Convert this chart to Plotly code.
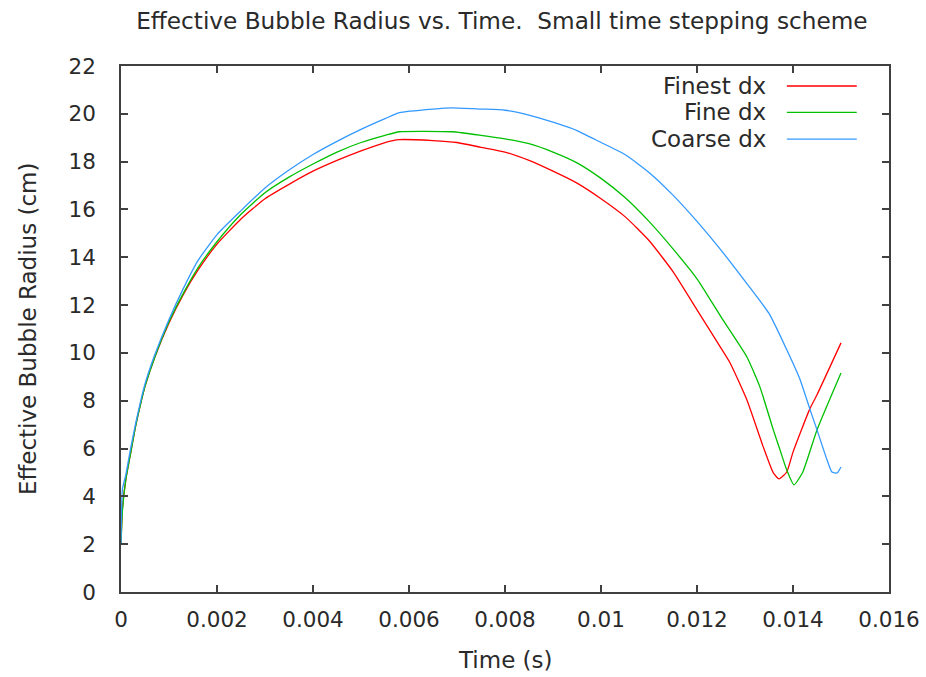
import plotly.graph_objects as go

# ---- data ----
t_finest = [0, 0.00003, 0.0001, 0.0002, 0.0003, 0.0004, 0.0005, 0.0007, 0.001, 0.0013, 0.0016,
            0.002, 0.0025, 0.003, 0.0035, 0.004, 0.0045, 0.005, 0.0055, 0.0058, 0.0065, 0.007,
            0.0075, 0.008, 0.0085, 0.009, 0.0095, 0.01, 0.0105, 0.011, 0.0115, 0.012, 0.0125,
            0.01269, 0.01304, 0.01338, 0.01359, 0.01371, 0.01387, 0.014, 0.01435, 0.0145, 0.015]
r_finest = [2.0, 3.5, 4.7, 5.8, 6.9, 7.8, 8.6, 9.8, 11.25, 12.45, 13.45,
            14.55, 15.6, 16.45, 17.05, 17.6, 18.05, 18.45, 18.8, 18.92, 18.88, 18.8,
            18.6, 18.4, 18.05, 17.6, 17.1, 16.45, 15.7, 14.7, 13.4, 11.8, 10.2,
            9.58, 8.03, 6.07, 4.98, 4.73, 5.02, 5.85, 7.66, 8.25, 10.42]

t_fine = [0, 0.00003, 0.0001, 0.0002, 0.0003, 0.0004, 0.0005, 0.0007, 0.001, 0.0013, 0.0016,
          0.002, 0.0025, 0.003, 0.0035, 0.004, 0.0045, 0.005, 0.0055, 0.0058, 0.0069, 0.0075,
          0.008, 0.0085, 0.009, 0.0095, 0.01, 0.0105, 0.011, 0.0115, 0.012, 0.01254, 0.01304,
          0.01331, 0.01359, 0.01373, 0.01387, 0.01402, 0.0142, 0.0145, 0.015]
r_fine = [2.0, 3.4, 4.7, 5.8, 6.9, 7.8, 8.6, 9.8, 11.3, 12.5, 13.55,
          14.65, 15.8, 16.7, 17.35, 17.9, 18.4, 18.8, 19.1, 19.25, 19.25, 19.1,
          18.95, 18.75, 18.4, 17.95, 17.3, 16.5, 15.5, 14.35, 13.1, 11.38, 9.83,
          8.58, 6.78, 5.94, 5.1, 4.48, 5.0, 6.78, 9.16]

t_coarse = [0, 0.00003, 0.0001, 0.0002, 0.0003, 0.0004, 0.0005, 0.0007, 0.001, 0.0013, 0.0016,
            0.002, 0.0025, 0.003, 0.0035, 0.004, 0.0045, 0.005, 0.0055, 0.0058, 0.0065, 0.0069,
            0.0075, 0.008, 0.0085, 0.009, 0.0095, 0.01, 0.0105, 0.011, 0.0115, 0.012, 0.0125,
            0.013, 0.0135, 0.01387, 0.01415, 0.01435, 0.0145, 0.01471, 0.01481, 0.01492, 0.015]
r_coarse = [2.0, 4.3, 4.9, 6.0, 7.0, 7.9, 8.7, 9.9, 11.4, 12.7, 13.85,
            14.95, 15.95, 16.9, 17.65, 18.3, 18.85, 19.35, 19.8, 20.05, 20.2, 20.25,
            20.2, 20.15, 19.95, 19.65, 19.3, 18.8, 18.3, 17.55, 16.6, 15.5, 14.3,
            13.0, 11.65, 10.13, 8.87, 7.66, 6.78, 5.52, 5.02, 4.98, 5.23]

series_names = ["Finest dx", "Fine dx", "Coarse dx"]
series_colors = ["#ff0000", "#00c000", "#3399ff"]

x_ticks = [0, 0.002, 0.004, 0.006, 0.008, 0.01, 0.012, 0.014, 0.016]
x_tick_text = ["0", "0.002", "0.004", "0.006", "0.008", "0.01", "0.012", "0.014", "0.016"]
y_ticks = list(range(0, 23, 2))

FONT = "DejaVu Sans"
TXT = "#2a2a2a"

fig = go.Figure()
for t, r, name, col in zip([t_finest, t_fine, t_coarse], [r_finest, r_fine, r_coarse],
                           series_names, series_colors):
    fig.add_trace(go.Scatter(x=t, y=r, mode="lines", name=name,
                             line=dict(color=col, width=1.3, shape="spline", smoothing=0.5),
                             showlegend=False))

# custom gnuplot-style legend (text on left, sample on right)
leg_y = [0.962, 0.912, 0.861]
for name, col, yy in zip(series_names, series_colors, leg_y):
    fig.add_annotation(x=0.843, y=yy, xref="paper", yref="paper", text=name,
                       showarrow=False, xanchor="right", yanchor="middle",
                       font=dict(family=FONT, size=23, color=TXT))
    fig.add_shape(type="line", xref="paper", yref="paper", x0=0.867, x1=0.958, y0=yy, y1=yy,
                  line=dict(color=col, width=1.3))

# axis titles placed like gnuplot
fig.add_annotation(x=0.5, y=-0.129, xref="paper", yref="paper", text="Time (s)",
                   showarrow=False, xanchor="center", yanchor="middle",
                   font=dict(family=FONT, size=23, color=TXT))
fig.add_annotation(x=-0.121, y=0.5, xref="paper", yref="paper", text="Effective Bubble Radius (cm)",
                   showarrow=False, xanchor="center", yanchor="middle", textangle=-90,
                   font=dict(family=FONT, size=23, color=TXT))

axis_common = dict(showline=True, mirror="allticks", linecolor="#404040", linewidth=1.5,
                   ticks="inside", ticklen=7, tickwidth=1.5, tickcolor="#404040",
                   showgrid=False, zeroline=False, automargin=False,
                   tickfont=dict(family=FONT, size=21.5, color=TXT))

fig.update_layout(
    width=926, height=677,
    margin=dict(l=121, r=37, t=66, b=85),
    paper_bgcolor="white", plot_bgcolor="white",
    title=dict(text="Effective Bubble Radius vs. Time.  Small time stepping scheme",
               x=0.542, xanchor="center", y=1 - 21 / 677, yanchor="middle",
               font=dict(family=FONT, size=23.2, color=TXT)),
    xaxis=dict(range=[0, 0.016], tickvals=x_ticks, ticktext=x_tick_text,
               ticklabelstandoff=7, **axis_common),
    yaxis=dict(range=[0, 22], tickvals=y_ticks,
               ticklabelstandoff=19, **axis_common),
)

fig.write_html("out.html")
